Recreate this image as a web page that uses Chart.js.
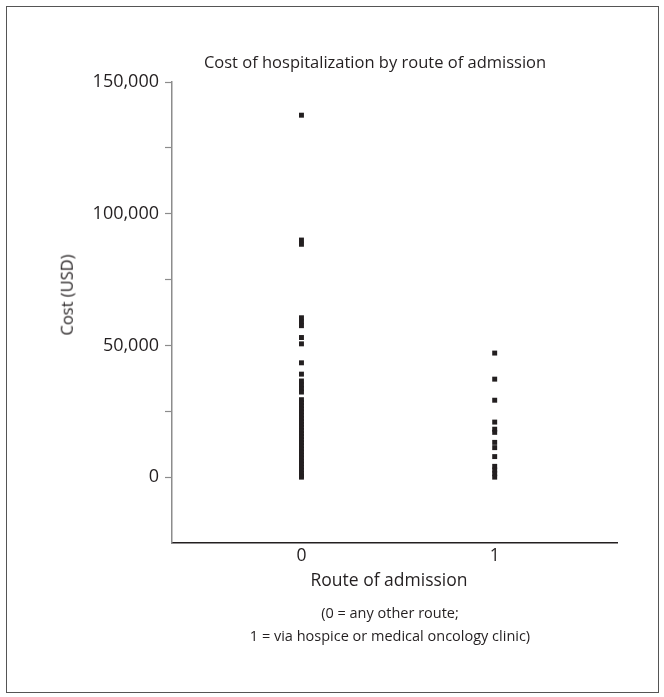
<!DOCTYPE html>
<html>
<head>
<meta charset="utf-8">
<script src="https://cdn.jsdelivr.net/npm/chart.js@4/dist/chart.umd.min.js"></script>
<style>
html,body{margin:0;padding:0;background:#fff;}
#wrap{position:relative;width:664px;height:697px;overflow:hidden;}
#frame{position:absolute;left:6px;top:6px;width:653px;height:687px;border:1.5px solid #555;box-sizing:border-box;}
#c{position:absolute;left:0;top:0;}
.t{position:absolute;font-family:'Open Sans',sans-serif;color:#231f20;white-space:nowrap;transform:translate(-50%,-50%);font-size:15px;line-height:1;}
</style>
</head>
<body>
<div id="wrap">
  <div id="frame"></div>
  <canvas id="c" width="664" height="697"></canvas>
  <div class="t" style="left:375px;top:62px;font-size:16.5px;">Cost of hospitalization by route of admission</div>
  <div class="t" style="left:67px;top:295px;font-size:16.5px;transform:translate(-50%,-50%) rotate(-90deg);">Cost (USD)</div>
  <div class="t" style="left:389px;top:580px;font-size:17.5px;">Route of admission</div>
  <div class="t" style="left:390px;top:613px;font-size:14.5px;">(0 = any other route;</div>
  <div class="t" style="left:390px;top:636px;font-size:14.5px;">1 = via hospice or medical oncology clinic)</div>
</div>
<script>
// Categories (route of admission)
const routeCategories = [0, 1];
const routeTickLabels = ['0', '1'];

// Cost (USD) for route 0 = any other route
const costRoute0 = [137400, 90000, 88400, 60500, 59000, 57500, 53000, 50600, 43400, 39100,
  36500, 35000, 33600, 32300,
  29400, 28300, 27100, 25900, 24800, 23500, 22300, 21200, 20000, 18900, 17700, 16500,
  15400, 14200, 13100, 11900, 10700, 9600, 8400, 7300, 6100, 5000, 3800, 2700, 1500, 500, 0];

// Cost (USD) for route 1 = via hospice or medical oncology clinic
const costRoute1 = [47100, 37200, 29200, 20900, 18200, 17000, 13200, 11200, 7800, 4100, 2700, 1300, 0];

// Y-axis tick labels
const yTickValues = [0, 50000, 100000, 150000];

const ink = '#231f20';
const axisGray = '#8c8c8c';

const toPoints = (cat, arr) => arr.map(v => ({ x: cat, y: v }));

new Chart(document.getElementById('c'), {
  type: 'scatter',
  data: {
    datasets: [
      { label: 'Route 0', data: toPoints(routeCategories[0], costRoute0),
        pointStyle: 'rect', pointRadius: 3.5, borderWidth: 0, backgroundColor: ink, borderColor: ink },
      { label: 'Route 1', data: toPoints(routeCategories[1], costRoute1),
        pointStyle: 'rect', pointRadius: 3.5, borderWidth: 0, backgroundColor: ink, borderColor: ink }
    ]
  },
  options: {
    responsive: false,
    animation: false,
    events: [],
    layout: { padding: { left: 72, right: 47, top: 82, bottom: 124 } },
    plugins: { legend: { display: false }, tooltip: { enabled: false }, title: { display: false } },
    scales: {
      x: {
        type: 'linear',
        min: -0.67,
        max: 1.633,
        afterFit: s => { s.height = 30; },
        afterBuildTicks: s => { s.ticks = routeCategories.map(v => ({ value: v })); },
        ticks: {
          autoSkip: false,
          padding: 3,
          color: ink,
          font: { family: "'Open Sans'", size: 17.5 },
          callback: (v) => { const i = routeCategories.indexOf(v); return i >= 0 ? routeTickLabels[i] : ''; }
        },
        grid: { drawOnChartArea: false, drawTicks: false },
        border: { display: true, color: ink, width: 1.5 }
      },
      y: {
        type: 'linear',
        min: -25000,
        max: 150000,
        afterFit: s => { s.width = 100; },
        ticks: {
          stepSize: 25000,
          autoSkip: false,
          padding: 6,
          color: ink,
          font: { family: "'Open Sans'", size: 18 },
          callback: (v) => yTickValues.includes(v) ? v.toLocaleString('en-US') : ''
        },
        grid: {
          drawOnChartArea: false,
          drawTicks: true,
          tickLength: 7,
          tickWidth: 1.2,
          tickColor: (ctx) => (ctx.tick && ctx.tick.value === -25000) ? 'rgba(0,0,0,0)' : axisGray
        },
        border: { display: true, color: axisGray, width: 1.5 }
      }
    }
  }
});
</script>
</body>
</html>
